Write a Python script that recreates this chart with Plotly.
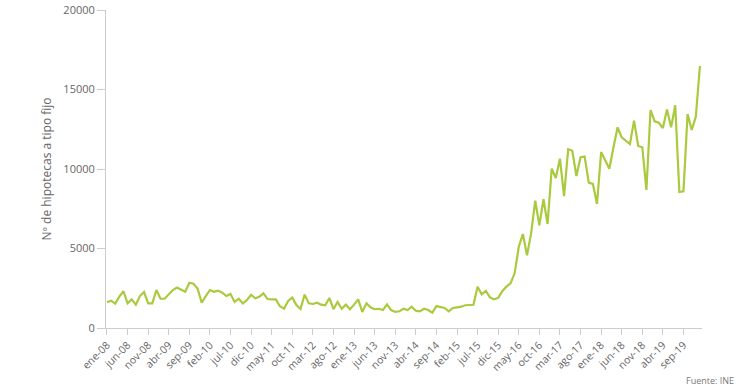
import plotly.graph_objects as go

months_es = ["ene", "feb", "mar", "abr", "may", "jun", "jul", "ago", "sep", "oct", "nov", "dic"]
start_year = 2008
n_points = 145
month_labels = [f"{months_es[i % 12]}-{(start_year + i // 12) % 100:02d}" for i in range(n_points)]

hipotecas_fijo = [
    1620, 1720, 1530, 1970, 2310, 1550, 1800, 1470, 2010, 2260, 1550, 1550,
    2390, 1840, 1840, 2140, 2390, 2550, 2430, 2280, 2850, 2780, 2480, 1590,
    2010, 2390, 2280, 2350, 2220, 2010, 2140, 1640, 1840, 1550, 1760, 2090,
    1870, 1970, 2180, 1820, 1800, 1800, 1370, 1210, 1700, 1920, 1450, 1200,
    2100, 1550, 1510, 1590, 1470, 1430, 1890, 1180, 1640, 1210, 1470, 1180,
    1470, 1800, 1010, 1550, 1300, 1180, 1210, 1130, 1490, 1130, 1010, 1050,
    1210, 1130, 1340, 1090, 1050, 1210, 1130, 960, 1380, 1340, 1260, 1050,
    1260, 1300, 1340, 1430, 1460, 1460, 2600, 2120, 2330, 1930, 1800, 1890,
    2310, 2600, 2810, 3440, 5110, 5910, 4570, 5950, 8010, 6460, 8100, 6540,
    10020, 9430, 10650, 8300, 11240, 11150, 9560, 10740, 10780, 9140, 9060, 7800,
    11070, 10570, 10020, 11370, 12620, 11990, 11780, 11570, 13040, 11450, 11370, 8680,
    13710, 13000, 12910, 12580, 13750, 12620, 14010, 8550, 8600, 13460, 12450, 13290,
    16480,
]

tick_idx = list(range(0, 141, 5))
tick_text = [month_labels[i] for i in tick_idx]
y_ticks = [0, 5000, 10000, 15000, 20000]

x_vals = list(range(n_points))

fig = go.Figure()
fig.add_trace(go.Scatter(
    x=x_vals, y=hipotecas_fijo, mode="lines",
    line=dict(color="#aaca3e", width=2.2),
    hoverinfo="skip", showlegend=False,
))

axis_col = "#cccccc"
font_col = "#666666"
fam = "Open Sans, Noto Sans, sans-serif"

fig.update_layout(
    width=740, height=389,
    margin=dict(l=106, r=38, t=10, b=61, autoexpand=False),
    paper_bgcolor="white", plot_bgcolor="white",
    font=dict(family=fam, color=font_col, size=11),
    xaxis=dict(
        range=[-0.24, 144.5], automargin=False,
        tickmode="array", tickvals=tick_idx, ticktext=tick_text,
        tickangle=-45, showgrid=False, zeroline=False,
        showline=True, linecolor=axis_col, linewidth=1,
        ticks="outside", tickcolor=axis_col, ticklen=6,
        tickfont=dict(size=10.5, color=font_col),
        ticklabeloverflow="allow",
    ),
    yaxis=dict(
        range=[0, 20000], automargin=False,
        tickmode="array", tickvals=y_ticks, ticktext=[str(v) for v in y_ticks],
        showgrid=False, zeroline=False,
        showline=True, linecolor=axis_col, linewidth=1,
        ticks="outside", tickcolor=axis_col, ticklen=8,
        tickfont=dict(size=11, color=font_col),
        ticklabeloverflow="allow",
        title=dict(text="Nº de hipotecas a tipo fijo", font=dict(size=12, color=font_col), standoff=9),
    ),
    annotations=[dict(
        text="Fuente: INE", xref="paper", yref="paper",
        x=1.0, y=0, xanchor="right", yanchor="middle",
        xshift=34, yshift=-52, showarrow=False,
        font=dict(size=9, color="#777777"),
    )],
)

fig.write_html(
    "out.html",
    config={"displayModeBar": False},
    post_script="document.body.style.margin='0';document.body.style.overflow='hidden';",
)
